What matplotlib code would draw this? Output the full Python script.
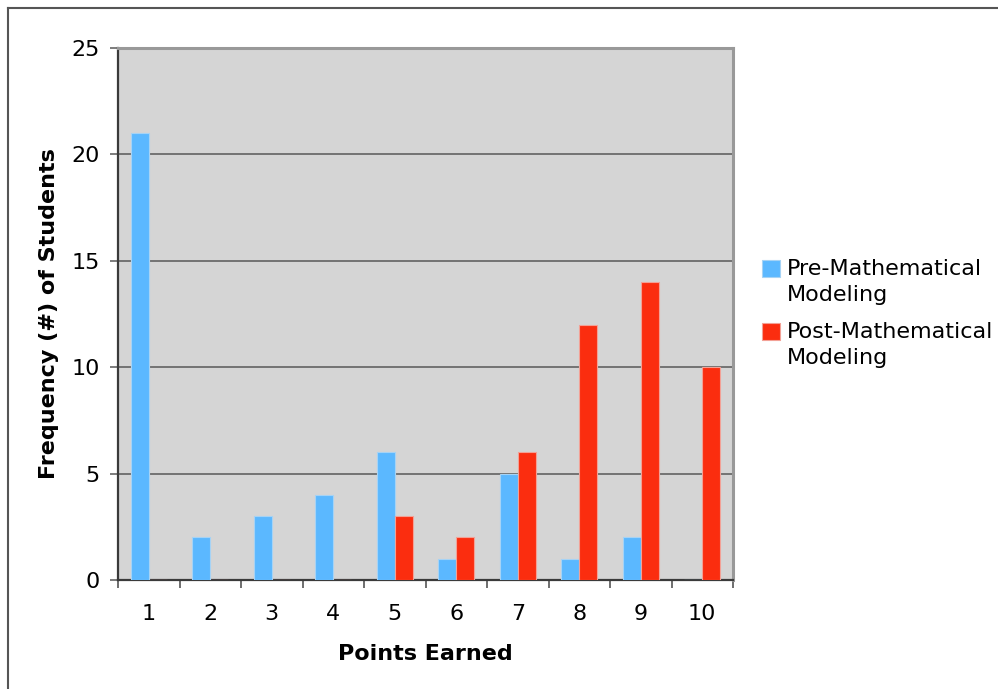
import matplotlib
matplotlib.use("Agg")
import matplotlib.pyplot as plt
from matplotlib.patches import Rectangle
from matplotlib.lines import Line2D
import numpy as np

plt.rcParams['font.family'] = ['DejaVu Sans']

# Data
points = ["1", "2", "3", "4", "5", "6", "7", "8", "9", "10"]
pre_modeling = [21, 2, 3, 4, 6, 1, 5, 1, 2, 0]
post_modeling = [0, 0, 0, 0, 3, 2, 6, 12, 14, 10]
series_names = ["Pre-Mathematical\nModeling", "Post-Mathematical\nModeling"]
series_colors = ["#5bb8ff", "#fb2d0f"]
edge_colors = ["#a6d3f5", "#f3a196"]
y_ticks = [0, 5, 10, 15, 20, 25]

W, H = 998, 689
fig = plt.figure(figsize=(W / 100, H / 100), dpi=100)
fig.patch.set_facecolor("white")

ax = fig.add_axes([118 / W, 1 - 580 / H, (733 - 118) / W, (580 - 48) / H])
ax.set_facecolor("#d5d5d5")

x = np.arange(len(points))
bw = 0.29
ax.bar(x - bw / 2, pre_modeling, width=bw, color=series_colors[0],
       edgecolor=edge_colors[0], linewidth=0.8, zorder=3)
ax.bar(x + bw / 2, post_modeling, width=bw, color=series_colors[1],
       edgecolor=edge_colors[1], linewidth=0.8, zorder=3)

ax.set_xlim(-0.5, len(points) - 0.5)
ax.set_ylim(0, 25)

ax.set_yticks(y_ticks)
ax.set_yticklabels([str(v) for v in y_ticks])
ax.yaxis.grid(True, color="#737373", linewidth=1.4, zorder=1)
ax.set_axisbelow(True)

ax.set_xticks(x)
ax.set_xticklabels(points)
ax.set_xticks(np.arange(len(points) + 1) - 0.5, minor=True)
ax.tick_params(axis="x", which="major", length=0, pad=17, labelsize=16)
ax.tick_params(axis="x", which="minor", length=6, width=1.2, color="#555555")
ax.tick_params(axis="y", which="major", length=6, width=1.2, color="#666666",
               pad=7, labelsize=16)

for side in ["left", "bottom"]:
    ax.spines[side].set_color("#3a3a3a")
    ax.spines[side].set_linewidth(1.6)
for side in ["top", "right"]:
    ax.spines[side].set_color("#999999")
    ax.spines[side].set_linewidth(2.2)

ax.set_xlabel("Points Earned", fontsize=16, fontweight="bold", labelpad=15)
ax.set_ylabel("Frequency (#) of Students", fontsize=16, fontweight="bold",
              labelpad=9)

# Legend drawn as swatches plus text
legend_tops = [260, 323]
for name, color, edge, top in zip(series_names, series_colors, edge_colors, legend_tops):
    fig.add_artist(Rectangle((762 / W, 1 - (top + 17) / H), 18 / W, 17 / H,
                             transform=fig.transFigure, facecolor=color,
                             edgecolor=edge, linewidth=0.8))
    fig.text(787 / W, 1 - (top - 1) / H, name, fontsize=16, va="top",
             ha="left", linespacing=1.38)

# Outer frame lines
fig.add_artist(Line2D([8 / W, 1.0], [1 - 8 / H, 1 - 8 / H], transform=fig.transFigure,
                      color="#555555", linewidth=1.5))
fig.add_artist(Line2D([8 / W, 8 / W], [1 - 8 / H, 0.0], transform=fig.transFigure,
                      color="#555555", linewidth=1.5))

fig.savefig("out.png", dpi=100)
